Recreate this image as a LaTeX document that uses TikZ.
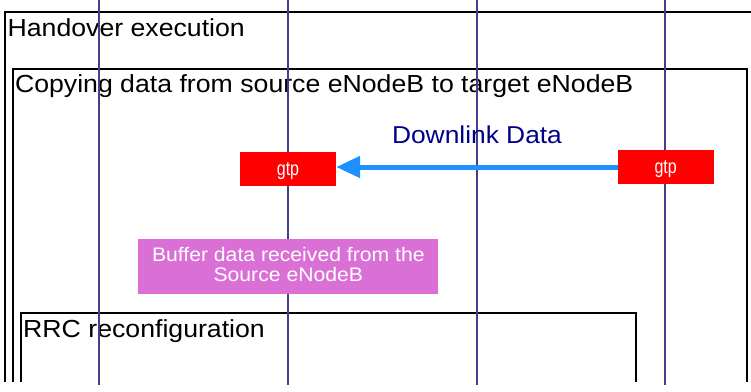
\documentclass[tikz,border=0pt]{standalone}
\usepackage{fontspec}
\setmainfont{Liberation Sans}
\newfontfamily\labfont{Liberation Sans}[FakeStretch=1.08]
\newfontfamily\gtpfont{Liberation Sans}[FakeStretch=0.8]
\usetikzlibrary{arrows.meta}
\definecolor{lifec}{RGB}{72,61,139}
\definecolor{arrowc}{RGB}{30,144,255}
\definecolor{gtpred}{RGB}{255,0,0}
\definecolor{bufc}{RGB}{218,112,214}
\definecolor{dlc}{RGB}{0,0,139}
\begin{document}
\begin{tikzpicture}[x=1pt,y=-1pt,
  frame/.style={draw=black,line width=2.3pt,line join=miter},
  framelabel/.style={anchor=base west,inner sep=0pt,font=\labfont\fontsize{24.7}{28}\selectfont},
  lifeline/.style={draw=lifec,line width=1.9pt},
  gtpbox/.style={fill=gtpred,minimum width=96pt,minimum height=33.5pt,inner sep=0pt},
  gtplabel/.style={anchor=base,text=white,inner sep=0pt,font=\gtpfont\fontsize{20}{22}\selectfont},
  msglabel/.style={anchor=base,inner sep=0pt,text=dlc,font=\labfont\fontsize{24.4}{28}\selectfont},
  notebox/.style={fill=bufc,minimum width=300pt,minimum height=55pt,inner sep=0pt},
  notelabel/.style={align=center,text=white,inner sep=0pt,font=\labfont\fontsize{19.6}{20}\selectfont},
  msgarrow/.style={draw=arrowc,line width=5pt,-{Triangle[length=24pt,width=21pt]}}]
\useasboundingbox (0,0) rectangle (751,391);
\clip (0,0) rectangle (751,391);
\fill[white] (0,0) rectangle (751,391);
% frames (open at the bottom)
\draw[frame] (5,381.7) |- (760,12);
\draw[frame] (12.7,381.7) |- (746.7,69) -- (746.7,381.7);
\draw[frame] (20.7,381.7) |- (636,313.3) -- (636,381.7);
\node[framelabel] (hoLabel) at (7.4,36.7) {Handover execution};
\node[framelabel] (cpLabel) at (14.8,92.3) {Copying data from source eNodeB to target eNodeB};
\node[framelabel] (rrcLabel) at (23,337.7) {RRC reconfiguration};
% lifelines
\foreach \n/\x in {la/99.3,lb/288.3,lc/476.7,ld/665.3}{
  \coordinate (\n top) at (\x,0);
  \coordinate (\n bot) at (\x,385);
  \draw[lifeline] (\n top) -- (\n bot);
}
% message
\node[gtpbox] (gtpA) at (288,169.2) {};
\node[gtpbox] (gtpB) at (665.7,167) {};
\draw[msgarrow] (gtpB.west) -- (gtpA.east |- gtpB.west);
\node[gtplabel] (gtpAtext) at (288,175) {gtp};
\node[gtplabel] (gtpBtext) at (665.7,173.3) {gtp};
\node[msglabel] (dlLabel) at (477,143.3) {Downlink Data};
% note
\node[notebox] (buf) at (288.3,266.8) {};
\node[notelabel] (bufText) at (288.3,264.5) {Buffer data received from the\\Source eNodeB};
\end{tikzpicture}
\end{document}
